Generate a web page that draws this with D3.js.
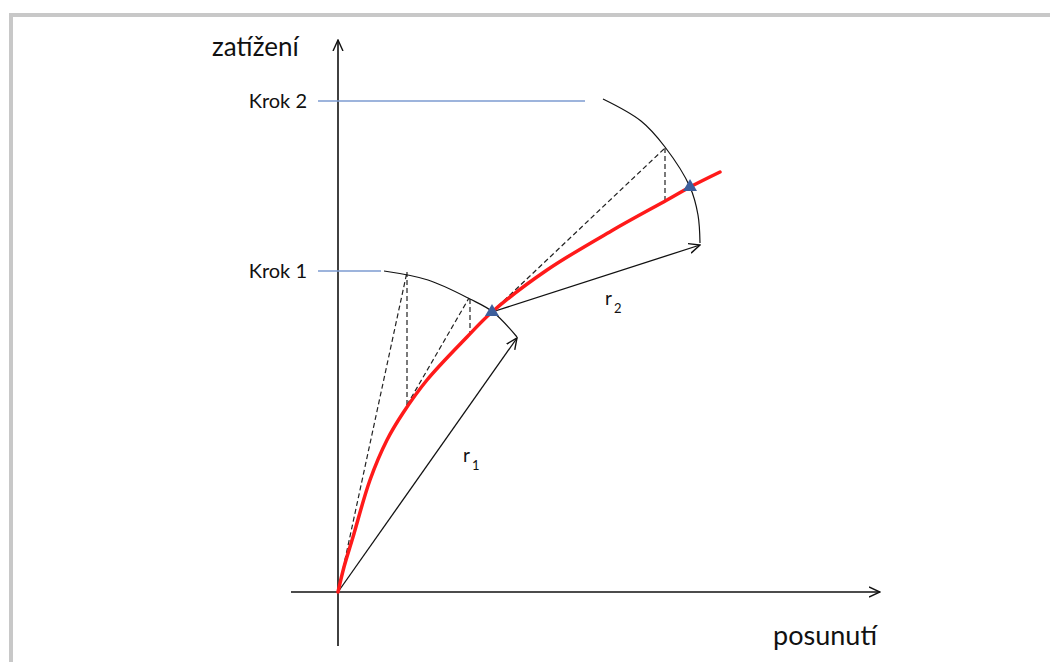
<!DOCTYPE html>
<html>
<head>
<meta charset="utf-8">
<script src="https://cdn.jsdelivr.net/npm/d3@7"></script>
<style>
  body { margin: 0; background: #fff; }
  text { font-family: Lato, "Open Sans", sans-serif; fill: #111; }
</style>
</head>
<body>
<div id="container"></div>
<script>
const width = 1050;
const height = 662;

// diagram data: [posunutí, zatížení] offsets from origin
const redCurve = [[0, 0], [6, 25], [15, 55], [32, 112], [49, 152], [65, 179], [89, 212],
                  [129, 255], [154, 280], [209, 322], [275, 362], [329, 392], [352, 405], [382, 420]];
const arc1 = [[46, 321], [90, 312], [132, 293], [155, 280], [179, 255]];
const arc2 = [[265, 493], [303, 471], [327, 445], [352, 405], [360, 377], [362, 349]];
const arrows = [
  { label: "1", from: [0, 0], to: [179, 254], text: [125, 130] },
  { label: "2", from: [154, 280], to: [362, 347], text: [267, 287] }
];
const dashed = [
  [[0, 0], [69, 320]],
  [[69, 320], [69, 187]],
  [[69, 187], [131, 294]],
  [[132, 293], [132, 258]],
  [[154, 280], [327, 444]],
  [[327, 444], [327, 392]]
];
const solutions = [[154, 280], [352, 405]];
const steps = ["Krok 1", "Krok 2"];
const stepLoads = [321, 491];
const stepLineEnds = [43, 247];

const x = d3.scaleLinear().domain([0, 540]).range([338, 878]);
const y = d3.scaleLinear().domain([0, 540]).range([592, 52]);

const svg = d3.create("svg")
    .attr("width", width)
    .attr("height", height);

// grey frame
svg.append("path")
    .attr("d", `M11,${height} V15 H${width}`)
    .attr("fill", "none")
    .attr("stroke", "#c8c8c8")
    .attr("stroke-width", 4);

const defs = svg.append("defs");
defs.append("marker")
    .attr("id", "head")
    .attr("viewBox", "0 0 12 12")
    .attr("refX", 11).attr("refY", 6)
    .attr("markerWidth", 12).attr("markerHeight", 12)
    .attr("markerUnits", "userSpaceOnUse")
    .attr("orient", "auto")
  .append("path")
    .attr("d", "M0,1 L11,6 L0,11")
    .attr("fill", "none")
    .attr("stroke", "#111")
    .attr("stroke-width", 1.4);

const line = d3.line().x(d => x(d[0])).y(d => y(d[1]));
const smooth = d3.line().x(d => x(d[0])).y(d => y(d[1])).curve(d3.curveCatmullRom);

// axes
svg.append("line")
    .attr("x1", x(0)).attr("y1", y(-54))
    .attr("x2", x(0)).attr("y2", y(552))
    .attr("stroke", "#111").attr("stroke-width", 1.6)
    .attr("marker-end", "url(#head)");
svg.append("line")
    .attr("x1", x(-47)).attr("y1", y(0))
    .attr("x2", x(542)).attr("y2", y(0))
    .attr("stroke", "#111").attr("stroke-width", 1.6)
    .attr("marker-end", "url(#head)");

svg.append("text").attr("x", 212).attr("y", 56)
    .attr("font-size", 26).text("zatížení");
svg.append("text").attr("x", 877).attr("y", 645)
    .attr("text-anchor", "end")
    .attr("font-size", 27).text("posunutí");

// load steps
steps.forEach((s, i) => {
  svg.append("line")
      .attr("x1", x(-20)).attr("x2", x(stepLoads[i] ? stepLineEnds[i] : 0))
      .attr("y1", y(stepLoads[i])).attr("y2", y(stepLoads[i]))
      .attr("stroke", "#7c9bd0").attr("stroke-width", 1.5);
  svg.append("text")
      .attr("x", x(-31)).attr("y", y(stepLoads[i]) + 7)
      .attr("text-anchor", "end")
      .attr("font-size", 20)
      .text(s);
});

// dashed iterations
svg.selectAll(".dash").data(dashed).join("path")
    .attr("d", line)
    .attr("fill", "none")
    .attr("stroke", "#222")
    .attr("stroke-width", 1.2)
    .attr("stroke-dasharray", "5,3");

// arcs
[arc1, arc2].forEach(a => {
  svg.append("path")
      .attr("d", smooth(a))
      .attr("fill", "none")
      .attr("stroke", "#111")
      .attr("stroke-width", 1.2);
});

// radius arrows
arrows.forEach(a => {
  svg.append("line")
      .attr("x1", x(a.from[0])).attr("y1", y(a.from[1]))
      .attr("x2", x(a.to[0])).attr("y2", y(a.to[1]))
      .attr("stroke", "#111").attr("stroke-width", 1.3)
      .attr("marker-end", "url(#head)");
  const t = svg.append("text")
      .attr("x", x(a.text[0])).attr("y", y(a.text[1]))
      .attr("font-size", 19);
  t.append("tspan").text("r");
  t.append("tspan").attr("font-size", 13).attr("dx", 2).attr("dy", 8).text(a.label);
});

// equilibrium path
svg.append("path")
    .attr("d", smooth(redCurve))
    .attr("fill", "none")
    .attr("stroke", "#ff1a1a")
    .attr("stroke-width", 3.5)
    .attr("stroke-linecap", "round");

// converged points
svg.selectAll(".sol").data(solutions).join("path")
    .attr("transform", d => `translate(${x(d[0])},${y(d[1])})`)
    .attr("d", d3.symbol(d3.symbolTriangle, 85))
    .attr("fill", "#3d5f9c");

container.append(svg.node());
</script>
</body>
</html>
